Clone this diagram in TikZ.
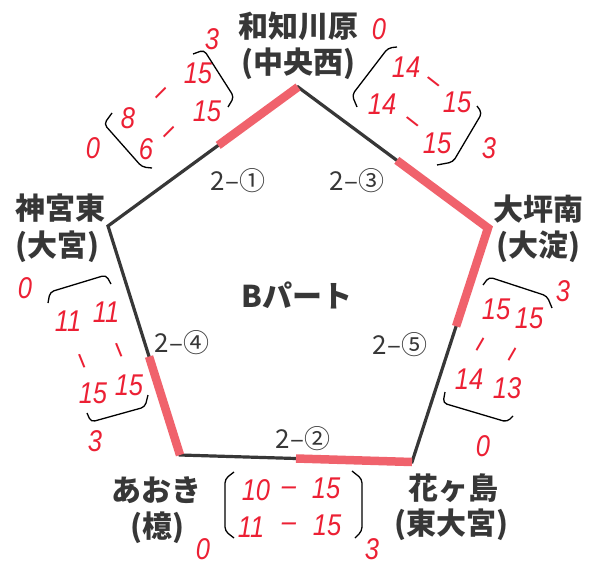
\documentclass[tikz,border=0pt]{standalone}
\usepackage{fontspec}
\newfontfamily\jp{Noto Sans CJK JP}
\newfontfamily\hand[FakeStretch=0.85]{Liberation Sans}
\usetikzlibrary{calc}
\definecolor{ink}{RGB}{55,55,55}
\definecolor{hl}{RGB}{240,98,108}
\definecolor{pen}{RGB}{236,32,52}
\tikzset{
 station/.style={text=ink, font=\jp\bfseries\fontsize{30}{32}\selectfont, inner sep=0pt},
 title/.style={text=ink, font=\jp\bfseries\fontsize{30}{32}\selectfont, inner sep=0pt},
 match/.style={text=ink, font=\jp\fontsize{26}{28}\selectfont, inner sep=0pt},
 score/.style={text=pen, font=\hand\itshape\fontsize{30}{32}\selectfont, inner sep=0pt},
 edge/.style={draw=ink, line width=3.2pt},
 hot/.style={draw=hl, line width=8.5pt, line join=miter},
 brk/.style={draw=black, line width=1.3pt, rounded corners=4pt},
}
\begin{document}
\begin{tikzpicture}[x=1pt,y=-1pt]
\useasboundingbox (0,0) rectangle (594,567);
\fill[white] (0,0) rectangle (594,567);
% pentagon vertices
\coordinate (A) at (298,87);
\coordinate (B) at (488,228);
\coordinate (C) at (412,462);
\coordinate (D) at (180,455);
\coordinate (E) at (108,226);
\draw[edge] (A) -- (B) -- (C) -- (D) -- (E) -- cycle;
% highlighted (won) parts
\coordinate (ea) at ($(E)!0.58!(A)$);
\coordinate (ab) at ($(A)!0.52!(B)$);
\coordinate (bc) at ($(B)!0.42!(C)$);
\coordinate (cd) at ($(C)!0.50!(D)$);
\coordinate (de) at ($(D)!0.43!(E)$);
\draw[hot] (ea) -- (A);
\draw[hot] (ab) -- (B) -- (bc);
\draw[hot] (C) -- (cd);
\draw[hot] (D) -- (de);
% stations
\node[station] (sA1) at (298,26) {和知川原};
\node[station] (sA2) at (298,64) {(中央西)};
\node[station] (sE1) at (60,208) {神宮東};
\node[station] (sE2) at (58,247) {(大宮)};
\node[station] (sB1) at (538,209) {大坪南};
\node[station] (sB2) at (538,247) {(大淀)};
\node[station] (sD1) at (156,490) {あおき};
\node[station] (sD2) at (157,528) {(檍)};
\node[station] (sC1) at (453,488) {花ヶ島};
\node[station] (sC2) at (451,525) {(東大宮)};
\node[title] (tt) at (297,295) {Bパート};
% match labels
\node[match] (m1) at (238,181) {2–①};
\node[match] (m3) at (357,181) {2–③};
\node[match] (m4) at (182,343) {2–④};
\node[match] (m5) at (400,345) {2–⑤};
\node[match] (m2) at (303,439) {2–②};
% scores top-left
\node[score] (tl3) at (212,39) {3};
\node[score] (tl0) at (93,148) {0};
\node[score] (tla1) at (128,118) {8};
\node[score,rotate=45] (tla2) at (163,95) {–};
\node[score] (tla3) at (198,73) {15};
\node[score] (tlb1) at (146,149) {6};
\node[score,rotate=45] (tlb2) at (171,134) {–};
\node[score] (tlb3) at (207,111) {15};
\draw[brk] (112,113) -- (104,124) -- (142,167) -- (152,168);
\draw[brk] (193,54) -- (204,50) -- (234,97) -- (228,107);
% scores top-right
\node[score] (tr0) at (379,29) {0};
\node[score] (tr3) at (489,148) {3};
\node[score] (tra1) at (406,67) {14};
\node[score,rotate=-38] (tra2) at (432,84) {–};
\node[score] (tra3) at (457,102) {15};
\node[score] (trb1) at (382,104) {14};
\node[score,rotate=-38] (trb2) at (411,124) {–};
\node[score] (trb3) at (437,143) {15};
\draw[brk] (397,47) -- (388,48) -- (352,95) -- (357,107);
\draw[brk] (477,106) -- (482,113) -- (453,162) -- (437,165);
% scores left
\node[score] (l0) at (25,288) {0};
\node[score] (l3) at (95,441) {3};
\node[score] (la1) at (68,321) {11};
\node[score,rotate=-68] (la2) at (79,362) {–};
\node[score] (la3) at (93,393) {15};
\node[score] (lb1) at (106,312) {11};
\node[score,rotate=-68] (lb2) at (116,351) {–};
\node[score] (lb3) at (129,385) {15};
\draw[brk] (48,303) -- (50,292) -- (106,275) -- (111,284);
\draw[brk] (87,413) -- (91,422) -- (145,407) -- (148,395);
% scores right
\node[score] (r3) at (563,291) {3};
\node[score] (r0) at (483,446) {0};
\node[score] (ra1) at (496,309) {15};
\node[score,rotate=60] (ra2) at (483,346) {–};
\node[score] (ra3) at (469,379) {14};
\node[score] (rb1) at (529,318) {15};
\node[score,rotate=60] (rb2) at (515,356) {–};
\node[score] (rb3) at (507,388) {13};
\draw[brk] (483,285) -- (489,277) -- (547,296) -- (552,308);
\draw[brk] (445,392) -- (443,403) -- (507,422) -- (513,416);
% scores bottom
\node[score] (b0) at (203,549) {0};
\node[score] (b3) at (372,549) {3};
\node[score] (ba1) at (256,490) {10};
\node[score] (ba2) at (289,491) {–};
\node[score] (ba3) at (326,488) {15};
\node[score] (bb1) at (251,527) {11};
\node[score] (bb2) at (289,527) {–};
\node[score] (bb3) at (327,525) {15};
\draw[brk] (234,472) -- (225,479) -- (225,531) -- (234,538);
\draw[brk] (352,471) -- (362,479) -- (362,531) -- (355,538);
\end{tikzpicture}
\end{document}
